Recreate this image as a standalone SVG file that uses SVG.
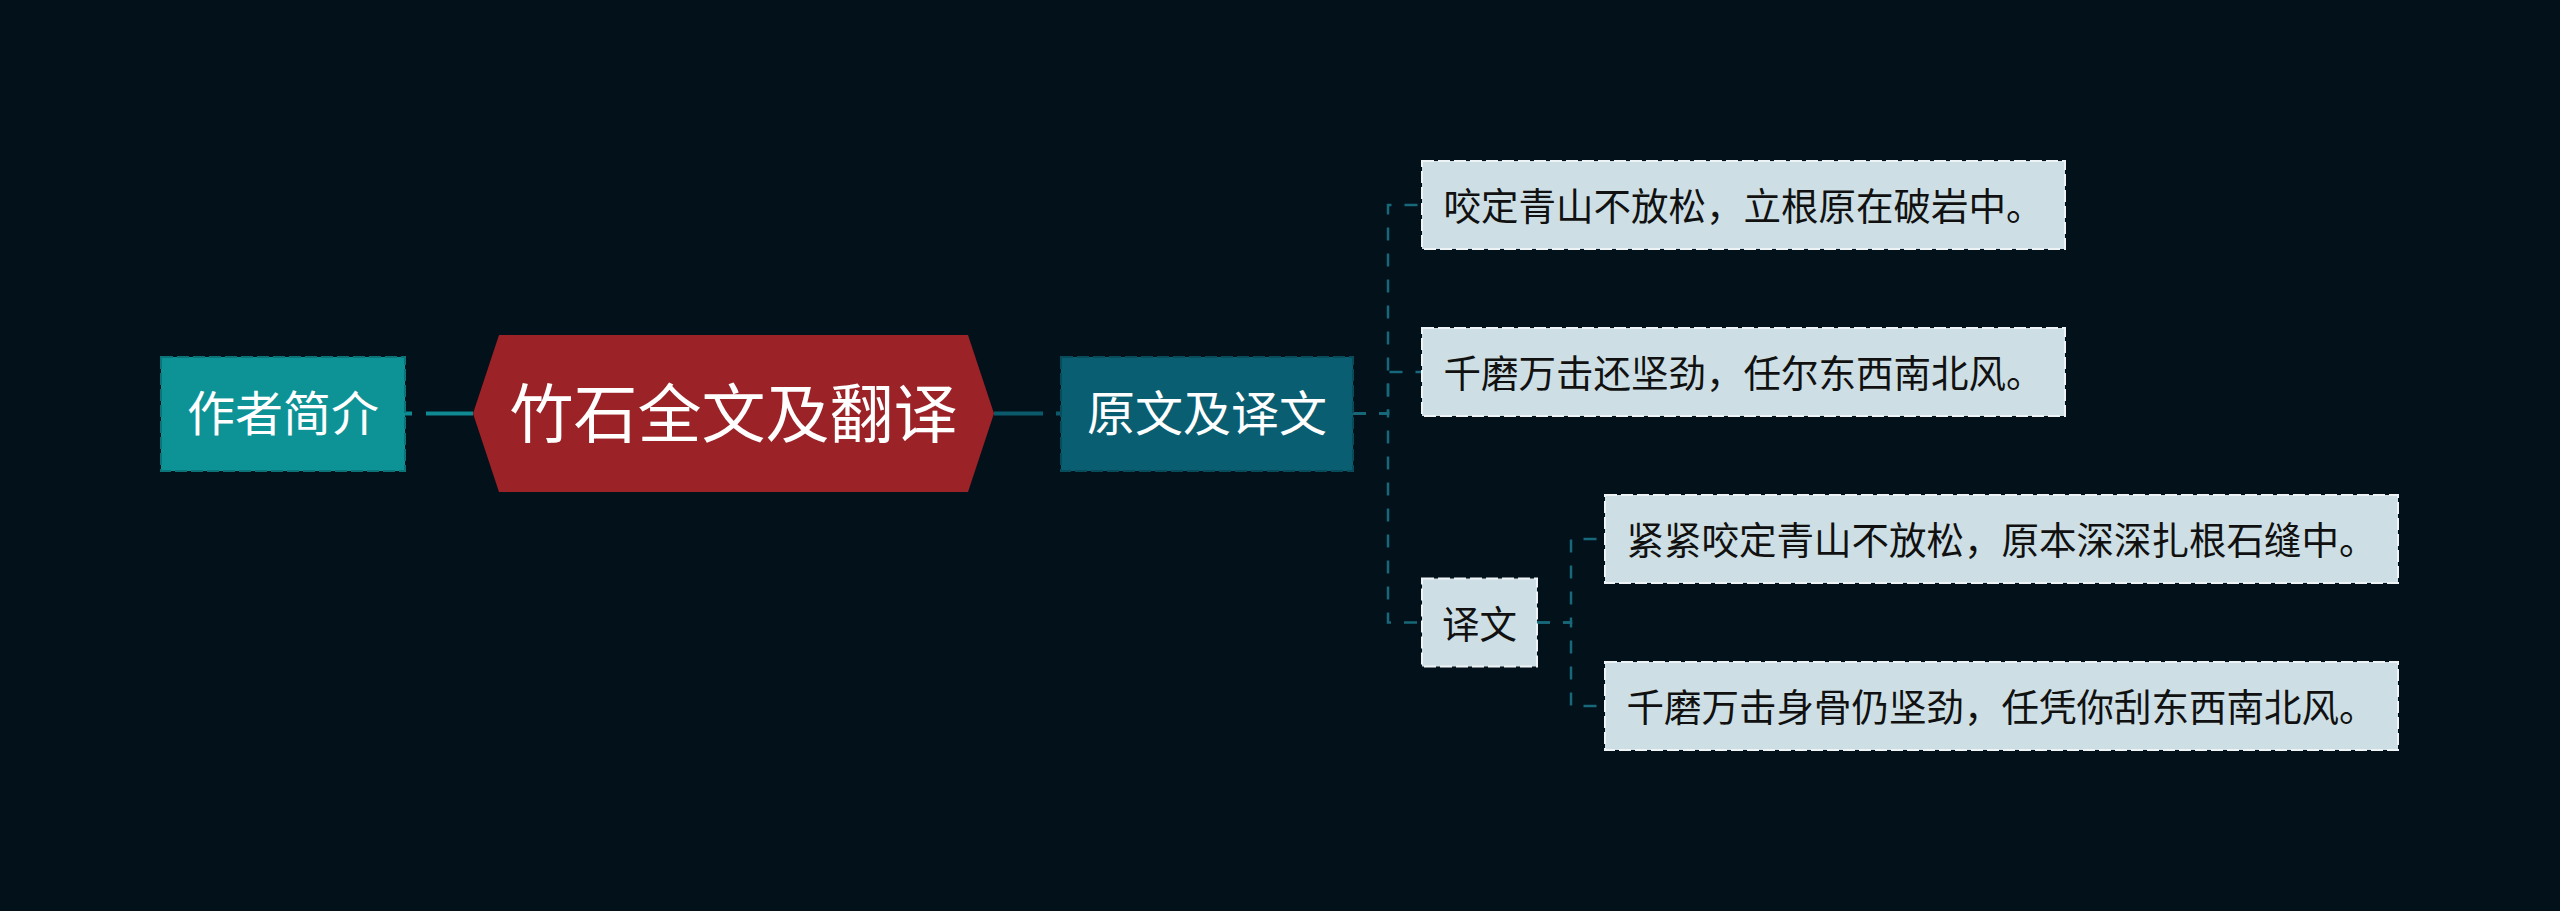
<svg xmlns="http://www.w3.org/2000/svg" width="2560" height="911" viewBox="0 0 2560 911">
<style>
  .t { font-family: "Noto Sans CJK SC", "Noto Sans", sans-serif; }
  .white { fill: #ffffff; }
  .dark { fill: #111111; }
  .leaf { fill: #cddfe4; stroke: #eef4f5; stroke-width: 2; stroke-dasharray: 12 4; }
  .conn { fill: none; stroke: #17687a; stroke-width: 2.5; stroke-dasharray: 13 13; }
</style>
<rect x="0" y="0" width="2560" height="911" fill="#03111a"/>
<g id="connectors">
  <path d="M473,413.5 H405" fill="none" stroke="#0f8a92" stroke-width="4" stroke-dasharray="47 14 20"/>
  <path d="M994,413.5 H1061" fill="none" stroke="#0b5a6c" stroke-width="4" stroke-dasharray="49 13 20"/>
  <path class="conn" d="M1353,413.5 H1388 V205 H1422"/>
  <path class="conn" d="M1353,413.5 H1388 V372 H1422"/>
  <path class="conn" d="M1353,413.5 H1388 V622.5 H1422"/>
  <path class="conn" d="M1537,622.5 H1571 V539 H1605"/>
  <path class="conn" d="M1537,622.5 H1571 V706 H1605"/>
</g>
<g id="root">
  <polygon points="473,413.5 499,335 968,335 994,413.5 968,492 499,492" fill="#9b2227"/>
  <text class="t white" x="733.5" y="437" font-size="64" text-anchor="middle">竹石全文及翻译</text>
</g>
<g id="author">
  <rect x="161" y="357" width="244" height="114" fill="#0d9296" stroke="#0a7479" stroke-width="2" stroke-dasharray="12 4"/>
  <text class="t white" x="283" y="431" font-size="48" text-anchor="middle">作者简介</text>
</g>
<g id="original">
  <rect x="1061" y="357" width="292" height="114" fill="#0a5e71" stroke="#084b5a" stroke-width="2" stroke-dasharray="12 4"/>
  <text class="t white" x="1207" y="431" font-size="48" text-anchor="middle">原文及译文</text>
</g>
<g id="leaf1">
  <rect class="leaf" x="1422" y="161" width="643" height="88"/>
  <text class="t dark" x="1743.5" y="220" font-size="37.5" text-anchor="middle">咬定青山不放松，立根原在破岩中。</text>
</g>
<g id="leaf2">
  <rect class="leaf" x="1422" y="328" width="643" height="88"/>
  <text class="t dark" x="1743.5" y="387" font-size="37.5" text-anchor="middle">千磨万击还坚劲，任尔东西南北风。</text>
</g>
<g id="translation">
  <rect class="leaf" x="1422" y="578.5" width="115" height="88"/>
  <text class="t dark" x="1479.5" y="637.5" font-size="37.5" text-anchor="middle">译文</text>
</g>
<g id="leaf3">
  <rect class="leaf" x="1605" y="495" width="793" height="88"/>
  <text class="t dark" x="2001.5" y="554" font-size="37.5" text-anchor="middle">紧紧咬定青山不放松，原本深深扎根石缝中。</text>
</g>
<g id="leaf4">
  <rect class="leaf" x="1605" y="662" width="793" height="88"/>
  <text class="t dark" x="2001.5" y="721" font-size="37.5" text-anchor="middle">千磨万击身骨仍坚劲，任凭你刮东西南北风。</text>
</g>
</svg>
